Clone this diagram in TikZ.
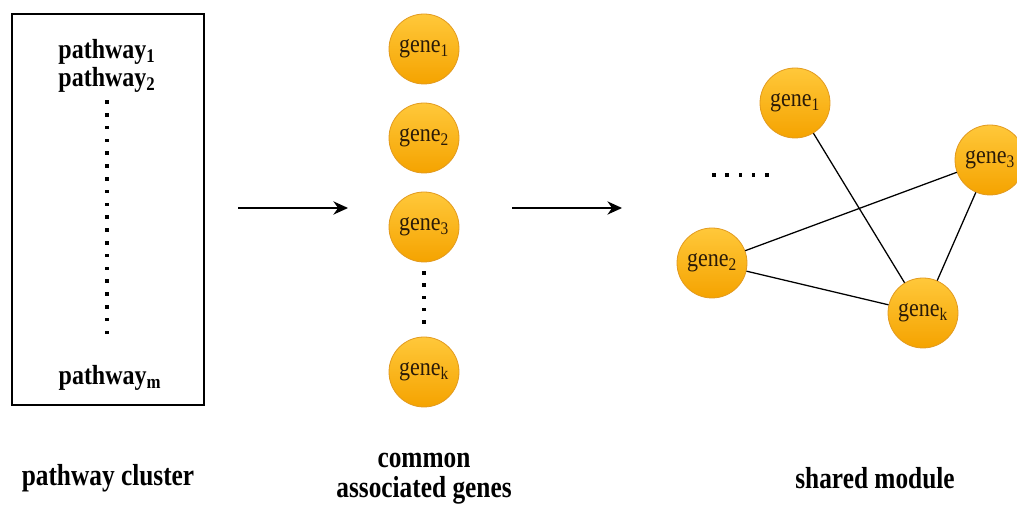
\documentclass[tikz,border=0pt]{standalone}
\usepackage{fontspec}
\setmainfont{Liberation Serif}
\usepackage{graphicx}
\usetikzlibrary{arrows.meta}
\definecolor{gtop}{HTML}{FFC83A}
\definecolor{gbot}{HTML}{F5A300}
\definecolor{gedge}{HTML}{E29A1E}
\definecolor{gtext}{HTML}{2A1A08}
\newcommand{\tallt}[1]{\scalebox{1}[1.15]{#1}}
\tikzset{
  genenode/.style={circle, minimum size=52.5pt, inner sep=0pt, draw=gedge, line width=0.6pt,
    top color=gtop, bottom color=gbot, text=gtext, font=\fontsize{16.5}{18}\selectfont},
  pwlabel/.style={font=\bfseries\fontsize{18}{19}\selectfont, inner sep=0pt},
  caption/.style={font=\bfseries\fontsize{19}{21}\selectfont, align=center, inner sep=0pt},
  flow/.style={-{Stealth[length=11pt,width=10pt]}, line width=1pt},
  link/.style={line width=0.95pt},
  dotmark/.style={fill=black, inner sep=0pt, minimum size=2.8pt, rectangle}
}
\begin{document}
\begin{tikzpicture}[x=0.75pt,y=-0.75pt]
\useasboundingbox (0,0) rectangle (1017,505);
% pathway box
\node[draw, line width=0.9pt, minimum width=144pt, minimum height=293.25pt, inner sep=0pt] (box) at (108,209.5) {};
\node[pwlabel] (p1) at (107,52) {\tallt{pathway\textsubscript{1}}};
\node[pwlabel] (p2) at (107,80) {\tallt{pathway\textsubscript{2}}};
\node[pwlabel] (pm) at (110,378) {\tallt{pathway\textsubscript{m}}};
\foreach \i in {0,...,18} { \node[dotmark] (pd\i) at (107,{102+\i*12.8}) {}; }
% arrows
\coordinate (a1s) at (238,208); \coordinate (a1e) at (348,208);
\coordinate (a2s) at (512,208); \coordinate (a2e) at (622,208);
\draw[flow] (a1s) -- (a1e);
\draw[flow] (a2s) -- (a2e);
% middle genes
\node[genenode] (m1) at (424,49) {\tallt{gene\textsubscript{1}}};
\node[genenode] (m2) at (424,138) {\tallt{gene\textsubscript{2}}};
\node[genenode] (m3) at (424,227) {\tallt{gene\textsubscript{3}}};
\node[genenode] (mk) at (424,372) {\tallt{gene\textsubscript{k}}};
\foreach \i in {0,...,4} { \node[dotmark] (md\i) at (424,{273+\i*12.2}) {}; }
% right module
\node[genenode] (r1) at (795,103) {\tallt{gene\textsubscript{1}}};
\node[genenode] (r3) at (990,160) {\tallt{gene\textsubscript{3}}};
\node[genenode] (r2) at (712,263) {\tallt{gene\textsubscript{2}}};
\node[genenode] (rk) at (923,313) {\tallt{gene\textsubscript{k}}};
\foreach \i in {0,...,4} { \node[dotmark] (rd\i) at ({714+\i*13.2},175) {}; }
\draw[link] (r1) -- (rk);
\draw[link] (r2) -- (r3);
\draw[link] (r2) -- (rk);
\draw[link] (r3) -- (rk);
% captions
\node[caption] (c1) at (108,478) {\scalebox{1}[1.2]{pathway cluster}};
\node[caption] (c2) at (424,479) {\scalebox{1}[1.2]{common}\\[1.5pt]\scalebox{1}[1.2]{associated genes}};
\node[caption] (c3) at (875,478) {\scalebox{1}[1.2]{shared module}};
\end{tikzpicture}
\end{document}
